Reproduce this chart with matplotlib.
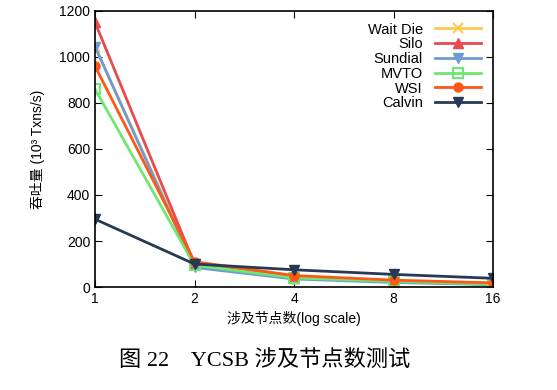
import matplotlib.pyplot as plt

plt.rcParams['font.family'] = ['Liberation Sans', 'Noto Sans CJK SC']

nodes = [1, 2, 4, 8, 16]
wait_die = [1045, 95, 38, 22, 12]
silo = [1150, 100, 40, 24, 12]
sundial = [1045, 85, 35, 20, 10]
mvto = [860, 95, 40, 25, 12]
wsi = [960, 110, 50, 30, 18]
calvin = [295, 100, 75, 55, 38]

series = [
    ("Wait Die", wait_die, "#ffc94f", "x", "full"),
    ("Silo", silo, "#e84a4e", "^", "full"),
    ("Sundial", sundial, "#6e9bd2", "v", "full"),
    ("MVTO", mvto, "#6ee870", "s", "none"),
    ("WSI", wsi, "#ff5716", "o", "full"),
    ("Calvin", calvin, "#263a55", "v", "full"),
]

fig = plt.figure(figsize=(5.57, 3.9), dpi=100)
ax = fig.add_axes([0.1706, 0.264, 0.7145, 0.708])

for name, vals, col, mk, fill in series:
    ax.plot(nodes, vals, color=col, marker=mk, fillstyle=fill, lw=2,
            ms=6.5, mew=1.5 if fill == "none" or mk == "x" else 1, label=name)

ax.set_xscale("log", base=2)
ax.set_xlim(1, 16)
ax.set_ylim(0, 1200)
ax.set_xticks(nodes)
ax.set_xticklabels([str(n) for n in nodes])
ax.minorticks_off()
ax.set_yticks(range(0, 1201, 200))
ax.tick_params(direction="in", top=True, right=True, labelsize=10, length=5)
for s in ax.spines.values():
    s.set_linewidth(1.2)

ax.set_xlabel("涉及节点数(log scale)", fontsize=10)
ax.set_ylabel("吞吐量 (10³ Txns/s)", fontsize=10, labelpad=10)

ax.legend(loc="upper right", markerfirst=False, frameon=False, fontsize=10.5,
          handlelength=3.2, labelspacing=0.05, borderaxespad=0.4)

fig.text(0.475, 0.075, "图 22    YCSB 涉及节点数测试", ha="center", va="center",
         fontsize=16, family=["Liberation Serif", "Noto Sans CJK SC"])

fig.savefig("out.png", dpi=100)
